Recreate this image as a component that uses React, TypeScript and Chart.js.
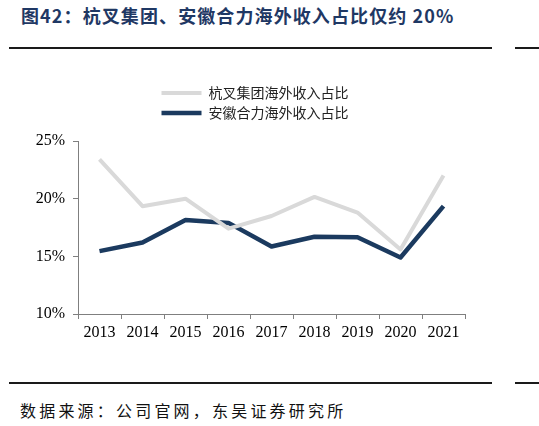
import React, { useEffect, useRef } from "react";
import { Chart, registerables } from "chart.js";

Chart.register(...registerables);

const categories = ["2013", "2014", "2015", "2016", "2017", "2018", "2019", "2020", "2021"];
const hangchaShare = [23.4, 19.35, 20.0, 17.4, 18.5, 20.15, 18.8, 15.6, 22.0];
const helliShare = [15.45, 16.2, 18.15, 17.9, 15.85, 16.7, 16.65, 14.9, 19.35];
const seriesNames = ["杭叉集团海外收入占比", "安徽合力海外收入占比"];
const yTicks = [10, 15, 20, 25];

const TITLE = "图42：杭叉集团、安徽合力海外收入占比仅约 20%";
const SOURCE = "数据来源：公司官网，东吴证券研究所";

const legendRows = {
  id: "legendRows",
  afterInit(chart: any) {
    const lg = chart.legend;
    if (!lg) return;
    const orig = lg.update.bind(lg);
    lg.update = (mw: number, mh: number, m: any) => {
      orig(Math.min(mw, 240), mh, m);
      lg.height += 11;
    };
  },
  afterLayout(chart: any) {
    const lg = chart.legend;
    if (!lg) return;
    lg.left = 0;
    lg.right = chart.width;
    lg.width = chart.width;
  },
};

export default function App() {
  const ref = useRef<HTMLCanvasElement | null>(null);

  useEffect(() => {
    if (!ref.current) return;
    const axisColor = "#7f7f7f";
    const chart = new Chart(ref.current, {
      type: "line",
      data: {
        labels: categories,
        datasets: [
          {
            label: seriesNames[0],
            data: hangchaShare,
            borderColor: "#d9d9d9",
            backgroundColor: "#d9d9d9",
            borderWidth: 4,
            pointRadius: 0,
            tension: 0,
            borderJoinStyle: "round",
            pointStyle: "line",
          },
          {
            label: seriesNames[1],
            data: helliShare,
            borderColor: "#1b3a5f",
            backgroundColor: "#1b3a5f",
            borderWidth: 4.5,
            pointRadius: 0,
            tension: 0,
            borderJoinStyle: "round",
            pointStyle: "line",
          },
        ],
      },
      options: {
        animation: false,
        responsive: false,
        maintainAspectRatio: false,
        layout: { padding: { top: 24, right: 36, bottom: 12, left: 0 } },
        plugins: {
          legend: {
            display: true,
            position: "top",
            labels: {
              usePointStyle: true,
              pointStyleWidth: 40,
              padding: 6,
              color: "#222",
              font: { family: "'Noto Sans CJK SC', sans-serif", size: 14 },
            },
          },
          tooltip: { enabled: false },
        },
        scales: {
          x: {
            type: "category",
            offset: true,
            grid: {
              offset: true,
              drawOnChartArea: false,
              drawTicks: true,
              tickLength: 5,
              color: axisColor,
            },
            border: { display: true, color: axisColor, width: 1 },
            ticks: {
              color: "#000",
              padding: 4,
              maxRotation: 0,
              font: { family: "'Liberation Serif', serif", size: 16 },
            },
            afterFit(scale: any) {
              scale.height = 30;
            },
          },
          y: {
            min: 10,
            max: 25,
            grid: {
              drawOnChartArea: false,
              drawTicks: true,
              tickLength: 5,
              color: axisColor,
            },
            border: { display: true, color: axisColor, width: 1 },
            afterBuildTicks(scale: any) {
              scale.ticks = yTicks.map((v) => ({ value: v }));
            },
            ticks: {
              color: "#000",
              padding: 8,
              callback: (v: any) => `${v}%`,
              font: { family: "'Liberation Serif', serif", size: 16 },
            },
            afterFit(scale: any) {
              scale.width = 69;
            },
          },
        },
      },
      plugins: [legendRows],
    } as any);
    return () => chart.destroy();
  }, []);

  const rule = (top: number) => (
    <>
      <div style={{ position: "absolute", left: 9, top, width: 483, height: 2, background: "#1a1a1a" }} />
      <div style={{ position: "absolute", left: 515, top, width: 24, height: 2, background: "#1a1a1a" }} />
    </>
  );

  return (
    <div style={{ position: "absolute", left: 0, top: 0, width: 539, height: 426, background: "#fff", overflow: "hidden" }}>
      <div
        style={{
          position: "absolute",
          left: 21,
          top: 3,
          fontFamily: "'Noto Sans CJK SC', sans-serif",
          fontWeight: 700,
          fontSize: 18,
          letterSpacing: 1.1,
          color: "#1f3864",
          whiteSpace: "nowrap",
          lineHeight: "24px",
        }}
      >
        {TITLE}
      </div>
      {rule(47)}
      <canvas ref={ref} width={492} height={300} style={{ position: "absolute", left: 9, top: 56, width: 492, height: 300 }} />
      {rule(382)}
      <div
        style={{
          position: "absolute",
          left: 20,
          top: 398,
          fontFamily: "'Noto Sans CJK SC', sans-serif",
          fontSize: 16,
          letterSpacing: 3.2,
          color: "#111",
          whiteSpace: "nowrap",
          lineHeight: "24px",
        }}
      >
        {SOURCE}
      </div>
    </div>
  );
}
